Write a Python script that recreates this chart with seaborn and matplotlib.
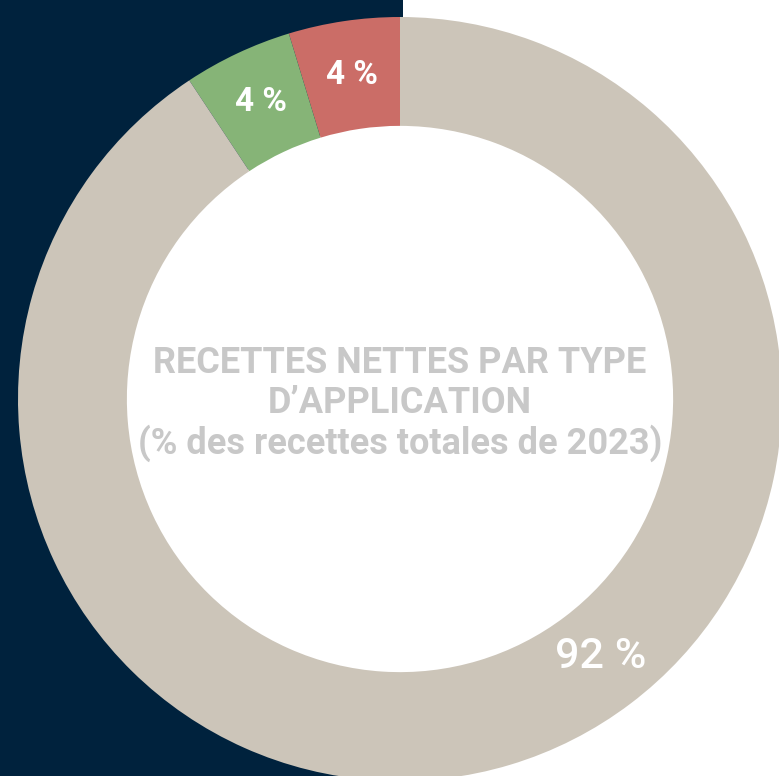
import matplotlib
matplotlib.use("Agg")
import matplotlib.pyplot as plt
from matplotlib.patches import Rectangle, Circle
import numpy as np
import seaborn as sns

# share of 2023 net revenue
segments = ["rouge", "vert", "beige"]
shares = [4.7, 4.6, 90.7]
share_labels = ["4 %", "4 %", "92 %"]
colours = ["#CB6D67", "#86B477", "#CCC5B9"]
title_lines = ["RECETTES NETTES PAR TYPE", "D\u2019APPLICATION", "(% des recettes totales de 2023)"]

sns.set_theme(style="white")
plt.rcParams['font.family'] = ['Roboto', 'DejaVu Sans']

W, H = 779, 776
cx, cy, R = 400, 399, 382
hole = 0.715
fig = plt.figure(figsize=(W / 100, H / 100), dpi=100)
fig.patch.set_facecolor("white")
fig.add_artist(Rectangle((0, 0), 403 / W, 1, transform=fig.transFigure,
                         facecolor="#00223D", edgecolor="none", zorder=0))

ax = fig.add_axes([0, 0, 1, 1])
ax.set_facecolor("none")
ax.add_patch(Circle((0, 0), hole + 0.005, facecolor="white", edgecolor="none", zorder=0))
wedges, _ = ax.pie(shares, colors=colours, startangle=90, counterclock=True,
                   radius=1, wedgeprops=dict(width=1 - hole, edgecolor="none"))
ax.set_xlim(-cx / R, (W - cx) / R)
ax.set_ylim((cy - H) / R, cy / R)
ax.set_aspect("equal")
ax.axis("off")

# small slices: label at the middle of the wedge
for w, lab in zip(wedges[:2], share_labels[:2]):
    a = np.deg2rad((w.theta1 + w.theta2) / 2)
    ax.text(0.858 * np.cos(a), 0.858 * np.sin(a), lab, color="white",
            fontsize=24, fontweight="bold", ha="center", va="center")
a = np.deg2rad(-52)
ax.text(0.854 * np.cos(a), 0.854 * np.sin(a), share_labels[2], color="white",
        fontsize=31, fontweight="medium", ha="center", va="center")

for i, line in enumerate(title_lines):
    ax.text(0, (cy - (363 + 40 * i)) / R, line, color="#C8C8C8", fontsize=26,
            fontweight="bold", ha="center", va="center")

fig.savefig("out.png", dpi=100)
